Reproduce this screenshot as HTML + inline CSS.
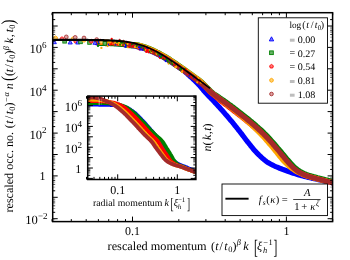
<!DOCTYPE html>
<html><head><meta charset="utf-8"><title>chart</title>
<style>html,body{margin:0;padding:0;background:#fff;overflow:hidden}body{width:350px;height:260px;font-family:"Liberation Serif",serif}svg{will-change:transform;transform:translateZ(0)}</style></head>
<body>
<svg width="350" height="260" viewBox="0 0 350 260" style="display:block" text-rendering="geometricPrecision" font-family="'Liberation Serif', serif">
<rect width="350" height="260" fill="#fff"/>
<defs><clipPath id="cm"><rect x="52.7" y="12.7" width="279.90000000000003" height="208.9"/></clipPath><clipPath id="ci"><rect x="87.7" y="96.1" width="108.2" height="83.4"/></clipPath></defs>
<g clip-path="url(#cm)">
<path d="M97.0,42.8 L98.4,42.8 L99.9,42.9 L101.3,42.9 L102.8,42.9 L104.2,43.0 L105.7,43.0 L107.1,43.0 L108.6,43.1 L110.0,43.2 L111.4,43.2 L112.9,43.3 L114.3,43.4 L115.8,43.5 L117.2,43.6 L118.7,43.7 L120.1,43.8 L121.5,44.0 L123.0,44.1 L124.4,44.3 L125.8,44.5 L127.3,44.7 L128.7,44.9 L130.1,45.1 L131.5,45.4 L133.0,45.7 L134.4,46.0 L135.8,46.3 L137.2,46.6 L138.6,46.9 L140.0,47.3 L141.4,47.6 L142.8,48.1 L144.2,48.5 L145.5,48.9 L146.9,49.4 L148.3,49.9 L149.6,50.5 L150.9,51.0 L152.3,51.6 L153.6,52.2 L154.9,52.8 L156.2,53.4 L157.5,54.1 L158.8,54.7 L160.0,55.4 L161.3,56.1 L162.6,56.8 L163.8,57.5 L165.1,58.2 L166.3,59.0 L167.6,59.7 L168.8,60.5 L170.0,61.3 L171.2,62.1 L172.4,62.9 L173.6,63.7 L174.8,64.5 L176.0,65.3 L177.2,66.1 L178.4,66.9 L179.6,67.8 L180.8,68.6 L182.0,69.4 L183.1,70.2 L184.3,71.1 L185.4,72.0 L186.5,73.0 L187.5,74.0 L188.6,75.0 L189.6,76.0 L190.7,76.9 L191.8,77.9 L192.9,78.9 L193.9,79.9 L195.0,80.9 L196.0,81.9 L197.0,82.9 L198.0,83.9 L199.0,85.0 L200.0,86.1 L200.9,87.2 L201.9,88.3 L202.8,89.4 L203.7,90.5 L204.6,91.6 L205.6,92.7 L206.6,93.7 L207.6,94.8 L208.6,95.8 L209.5,96.9 L210.6,97.9 L211.6,99.0 L212.6,100.0 L213.6,101.1 L214.5,102.1 L215.5,103.2 L216.5,104.2 L217.5,105.3 L218.5,106.4 L219.5,107.4 L220.4,108.5 L221.4,109.6 L222.4,110.6 L223.3,111.7 L224.3,112.8 L225.2,113.9 L226.2,115.0 L227.1,116.1 L228.1,117.2 L229.0,118.3 L229.9,119.4 L230.8,120.5 L231.8,121.6 L232.7,122.7 L233.6,123.8 L234.5,125.0 L235.4,126.1 L236.3,127.2 L237.2,128.3 L238.1,129.5 L239.0,130.6 L239.9,131.7 L240.8,132.9 L241.7,134.0 L242.5,135.2 L243.4,136.3 L244.3,137.5 L245.2,138.7 L246.0,139.8 L246.9,140.9 L247.8,142.1 L248.7,143.2 L249.6,144.3 L250.5,145.5 L251.4,146.6 L252.3,147.7 L253.2,148.8 L254.2,150.0 L255.1,151.0 L256.1,152.1 L257.1,153.2 L258.1,154.2 L259.1,155.2 L260.2,156.2 L261.2,157.2 L262.3,158.2 L263.4,159.1 L264.5,160.0 L265.7,160.9 L266.8,161.8 L268.0,162.6 L269.3,163.3 L270.5,164.0 L271.8,164.7 L273.1,165.3 L274.4,166.0 L275.7,166.6 L277.1,167.1 L278.4,167.7 L279.7,168.3 L281.1,168.8 L282.4,169.3 L283.8,169.8 L285.1,170.3 L286.5,170.8 L287.8,171.3 L289.2,171.8 L290.6,172.2 L292.0,172.7 L293.3,173.2 L294.7,173.6 L296.1,174.0 L297.5,174.5 L298.8,174.9 L300.2,175.3 L301.6,175.7 L303.0,176.0 L304.4,176.4 L305.8,176.7 L307.2,177.1 L308.6,177.4 L310.0,177.7 L311.5,178.1 L312.9,178.4 L314.3,178.7 L315.7,179.0 L317.1,179.3 L318.5,179.6 L319.9,179.9 L321.3,180.2 L322.7,180.6 L324.2,180.9 L325.6,181.2 L327.0,181.5 L328.4,181.9 L329.8,182.2 L331.2,182.5 L332.6,182.9 L334.0,183.2" fill="none" stroke="#0000ff" stroke-width="5.2" stroke-linejoin="round" stroke-linecap="round"/>
<path d="M99.0,43.2 L100.4,43.3 L101.8,43.3 L103.3,43.3 L104.7,43.4 L106.1,43.4 L107.5,43.5 L108.9,43.5 L110.4,43.6 L111.8,43.6 L113.2,43.7 L114.6,43.8 L116.0,43.9 L117.5,44.0 L118.9,44.1 L120.3,44.2 L121.7,44.4 L123.1,44.5 L124.5,44.7 L125.9,44.9 L127.3,45.1 L128.7,45.3 L130.2,45.6 L131.5,45.8 L132.9,45.7 L134.2,45.1 L135.6,44.5 L137.0,44.7 L138.4,45.0 L139.7,45.4 L141.1,45.8 L142.5,46.2 L143.8,46.6 L145.2,47.0 L146.5,47.5 L147.8,48.0 L149.2,48.5 L150.5,49.0 L151.8,49.6 L153.1,50.2 L154.4,50.8 L155.7,51.4 L156.9,52.0 L158.2,52.6 L159.5,53.3 L160.7,54.0 L162.0,54.7 L163.2,55.4 L164.4,56.1 L165.7,56.8 L166.9,57.5 L168.1,58.2 L169.3,59.0 L170.5,59.8 L171.7,60.6 L172.9,61.4 L174.0,62.1 L175.2,62.9 L176.4,63.7 L177.5,64.6 L178.7,65.4 L179.9,66.2 L181.0,67.0 L182.2,67.8 L183.4,68.6 L184.5,69.5 L185.7,70.3 L186.8,71.1 L188.0,71.9 L189.1,72.8 L190.3,73.6 L191.4,74.4 L192.6,75.3 L193.7,76.1 L194.9,76.9 L196.0,77.8 L197.2,78.6 L198.3,79.4 L199.5,80.3 L200.6,81.2 L201.7,82.1 L202.7,83.1 L203.7,84.1 L204.7,85.1 L205.7,86.1 L206.7,87.2 L207.7,88.2 L208.7,89.2 L209.7,90.2 L210.7,91.2 L211.8,92.1 L212.9,93.0 L214.0,93.8 L215.2,94.6 L216.4,95.4 L217.6,96.2 L218.7,97.0 L219.9,97.8 L221.1,98.6 L222.2,99.4 L223.4,100.2 L224.6,101.0 L225.8,101.9 L226.9,102.7 L228.1,103.5 L229.2,104.3 L230.4,105.1 L231.5,106.0 L232.7,106.9 L233.8,107.7 L234.9,108.6 L236.0,109.4 L237.2,110.3 L238.3,111.2 L239.4,112.1 L240.5,112.9 L241.7,113.8 L242.8,114.7 L243.9,115.6 L245.0,116.4 L246.1,117.3 L247.2,118.2 L248.4,119.1 L249.5,120.0 L250.6,120.9 L251.7,121.8 L252.7,122.7 L253.8,123.6 L254.9,124.5 L256.0,125.5 L257.0,126.4 L258.1,127.3 L259.2,128.3 L260.2,129.2 L261.3,130.2 L262.3,131.2 L263.3,132.2 L264.3,133.2 L265.3,134.1 L266.3,135.2 L267.3,136.2 L268.3,137.2 L269.3,138.3 L270.2,139.3 L271.2,140.4 L272.1,141.4 L273.1,142.5 L274.0,143.5 L274.9,144.6 L275.9,145.7 L276.8,146.8 L277.7,147.9 L278.6,148.9 L279.5,150.0 L280.5,151.1 L281.4,152.2 L282.3,153.3 L283.2,154.4 L284.1,155.5 L285.0,156.6 L285.9,157.7 L286.8,158.8 L287.7,159.9 L288.7,160.9 L289.6,162.0 L290.5,163.1 L291.5,164.1 L292.5,165.1 L293.4,166.2 L294.5,167.2 L295.5,168.1 L296.6,169.0 L297.8,169.8 L299.0,170.6 L300.2,171.4 L301.4,172.1 L302.7,172.8 L303.9,173.4 L305.2,174.0 L306.5,174.5 L307.9,175.0 L309.2,175.4 L310.6,175.8 L312.0,176.2 L313.3,176.6 L314.7,176.9 L316.1,177.3 L317.5,177.7 L318.8,178.0 L320.2,178.4 L321.6,178.7 L323.0,179.1 L324.3,179.4 L325.7,179.8 L327.1,180.1 L328.5,180.4 L329.9,180.8 L331.2,181.1 L332.6,181.5 L334.0,181.8" fill="none" stroke="#008000" stroke-width="5.2" stroke-linejoin="round" stroke-linecap="round"/>
<path d="M98.0,42.2 L99.4,42.2 L100.9,42.3 L102.3,42.3 L103.7,42.3 L105.1,42.4 L106.6,42.4 L108.0,42.5 L109.4,42.5 L110.8,42.6 L112.3,42.7 L113.7,42.7 L115.1,42.8 L116.5,42.9 L117.9,43.0 L119.4,43.1 L120.8,43.3 L122.2,43.4 L123.6,43.6 L125.0,43.7 L126.5,43.9 L127.9,44.1 L129.3,44.4 L130.7,44.6 L132.1,44.9 L133.5,45.2 L134.9,45.5 L136.3,45.8 L137.7,46.1 L139.0,46.4 L140.4,46.8 L141.8,47.2 L143.2,47.6 L144.5,48.0 L145.9,48.5 L147.2,48.9 L148.5,49.4 L149.9,50.0 L151.2,50.5 L152.5,51.1 L153.8,51.7 L155.1,52.3 L156.4,52.9 L157.6,53.6 L158.9,54.2 L160.2,54.9 L161.4,55.6 L162.7,56.3 L163.9,57.0 L165.1,57.7 L166.4,58.4 L167.6,59.1 L168.8,59.9 L170.0,60.7 L171.2,61.4 L172.4,62.2 L173.6,63.0 L174.7,63.8 L175.9,64.6 L177.1,65.4 L178.3,66.2 L179.4,67.1 L180.6,67.9 L181.8,68.7 L182.9,69.5 L184.1,70.3 L185.3,71.2 L186.4,72.0 L187.6,72.8 L188.7,73.7 L189.9,74.5 L191.0,75.3 L192.2,76.2 L193.4,77.0 L194.5,77.8 L195.7,78.7 L196.8,79.5 L198.0,80.4 L199.1,81.2 L200.3,82.1 L201.3,83.0 L202.4,84.0 L203.4,84.9 L204.4,85.9 L205.4,87.0 L206.4,88.0 L207.4,89.0 L208.4,90.1 L209.4,91.1 L210.4,92.1 L211.4,93.1 L212.5,94.0 L213.6,94.9 L214.7,95.8 L215.8,96.7 L216.9,97.6 L218.0,98.6 L219.1,99.5 L220.2,100.4 L221.3,101.3 L222.5,102.1 L223.6,103.0 L224.7,103.8 L225.9,104.7 L227.0,105.5 L228.2,106.4 L229.3,107.3 L230.4,108.1 L231.5,109.0 L232.7,109.9 L233.8,110.8 L234.9,111.6 L236.1,112.5 L237.2,113.4 L238.3,114.3 L239.4,115.2 L240.5,116.0 L241.7,116.9 L242.8,117.8 L243.9,118.7 L245.0,119.6 L246.1,120.5 L247.2,121.4 L248.3,122.3 L249.4,123.2 L250.5,124.1 L251.6,125.0 L252.7,126.0 L253.8,126.9 L254.8,127.8 L255.9,128.8 L257.0,129.7 L258.0,130.7 L259.1,131.7 L260.1,132.6 L261.1,133.6 L262.1,134.6 L263.1,135.6 L264.1,136.7 L265.1,137.7 L266.1,138.8 L267.0,139.8 L268.0,140.9 L268.9,141.9 L269.9,143.0 L270.8,144.1 L271.7,145.2 L272.7,146.2 L273.6,147.3 L274.5,148.4 L275.4,149.5 L276.3,150.6 L277.2,151.7 L278.1,152.8 L279.0,153.9 L279.9,155.0 L280.9,156.1 L281.8,157.2 L282.7,158.3 L283.6,159.4 L284.5,160.5 L285.4,161.6 L286.3,162.7 L287.3,163.8 L288.2,164.8 L289.3,165.8 L290.3,166.8 L291.4,167.7 L292.5,168.6 L293.7,169.4 L294.9,170.2 L296.1,171.0 L297.3,171.7 L298.6,172.4 L299.8,173.0 L301.1,173.6 L302.4,174.2 L303.7,174.7 L305.1,175.2 L306.4,175.7 L307.8,176.1 L309.2,176.6 L310.5,177.0 L311.9,177.3 L313.3,177.7 L314.6,178.1 L316.0,178.5 L317.4,178.8 L318.8,179.2 L320.2,179.5 L321.5,179.9 L322.9,180.2 L324.3,180.6 L325.7,180.9 L327.1,181.3 L328.5,181.6 L329.8,182.0 L331.2,182.3 L332.6,182.7 L334.0,183.0" fill="none" stroke="#ff0000" stroke-width="5.2" stroke-linejoin="round" stroke-linecap="round"/>
<path d="M100.0,42.1 L101.4,42.1 L102.8,42.1 L104.3,42.2 L105.7,42.2 L107.1,42.2 L108.5,42.3 L109.9,42.4 L111.3,42.4 L112.8,42.5 L114.2,42.6 L115.6,42.7 L117.0,42.8 L118.4,42.9 L119.8,43.0 L121.3,43.1 L122.7,43.3 L124.1,43.4 L125.5,43.6 L126.9,43.8 L128.3,44.0 L129.7,44.3 L131.1,44.6 L132.5,44.7 L133.9,44.7 L135.3,44.8 L136.7,44.9 L138.1,45.3 L139.5,45.6 L140.9,46.0 L142.2,46.4 L143.6,46.8 L144.9,47.2 L146.3,47.7 L147.6,48.2 L148.9,48.7 L150.2,49.2 L151.6,49.8 L152.8,50.4 L154.1,50.9 L155.4,51.6 L156.7,52.2 L158.0,52.8 L159.2,53.5 L160.5,54.1 L161.7,54.8 L163.0,55.5 L164.2,56.2 L165.4,56.9 L166.6,57.7 L167.8,58.4 L169.1,59.1 L170.2,59.9 L171.4,60.7 L172.6,61.5 L173.8,62.3 L175.0,63.1 L176.1,63.9 L177.3,64.7 L178.5,65.5 L179.6,66.3 L180.8,67.1 L182.0,67.9 L183.1,68.7 L184.3,69.6 L185.4,70.4 L186.6,71.2 L187.7,72.0 L188.9,72.9 L190.0,73.7 L191.2,74.5 L192.3,75.4 L193.5,76.2 L194.6,77.0 L195.8,77.9 L196.9,78.7 L198.1,79.5 L199.2,80.4 L200.3,81.2 L201.4,82.2 L202.4,83.1 L203.4,84.2 L204.4,85.2 L205.4,86.2 L206.3,87.3 L207.3,88.3 L208.3,89.4 L209.3,90.4 L210.3,91.4 L211.3,92.4 L212.3,93.3 L213.5,94.2 L214.6,95.1 L215.7,95.9 L216.9,96.8 L218.0,97.6 L219.1,98.5 L220.3,99.3 L221.4,100.2 L222.5,101.0 L223.6,101.9 L224.8,102.8 L225.9,103.6 L227.0,104.5 L228.1,105.4 L229.3,106.3 L230.4,107.1 L231.5,108.0 L232.6,108.9 L233.7,109.8 L234.8,110.7 L235.9,111.6 L237.0,112.5 L238.1,113.4 L239.2,114.3 L240.3,115.2 L241.3,116.1 L242.4,117.0 L243.5,117.9 L244.6,118.9 L245.7,119.8 L246.8,120.7 L247.8,121.6 L248.9,122.6 L249.9,123.5 L251.0,124.5 L252.0,125.5 L253.1,126.4 L254.1,127.4 L255.1,128.4 L256.1,129.4 L257.1,130.4 L258.1,131.4 L259.1,132.4 L260.1,133.4 L261.1,134.4 L262.1,135.5 L263.0,136.5 L264.0,137.5 L265.0,138.6 L265.9,139.7 L266.8,140.7 L267.8,141.8 L268.7,142.9 L269.6,143.9 L270.6,145.0 L271.5,146.1 L272.4,147.2 L273.3,148.3 L274.2,149.4 L275.1,150.5 L276.0,151.6 L276.9,152.7 L277.7,153.8 L278.6,154.9 L279.5,156.0 L280.4,157.1 L281.3,158.2 L282.2,159.3 L283.1,160.4 L284.1,161.4 L285.1,162.4 L286.1,163.4 L287.2,164.4 L288.2,165.4 L289.3,166.3 L290.3,167.2 L291.4,168.1 L292.6,168.9 L293.8,169.7 L295.0,170.5 L296.2,171.2 L297.5,171.9 L298.7,172.5 L300.0,173.1 L301.3,173.7 L302.6,174.3 L303.9,174.9 L305.2,175.4 L306.5,175.9 L307.9,176.3 L309.3,176.7 L310.6,177.0 L312.0,177.4 L313.4,177.8 L314.7,178.1 L316.1,178.5 L317.5,178.9 L318.9,179.2 L320.2,179.6 L321.6,179.9 L323.0,180.3 L324.4,180.6 L325.7,180.9 L327.1,181.3 L328.5,181.6 L329.9,182.0 L331.2,182.3 L332.6,182.7 L334.0,183.0" fill="none" stroke="#ffa500" stroke-width="5.2" stroke-linejoin="round" stroke-linecap="round"/>
<path d="M128.0,44.6 L129.3,44.8 L130.5,45.0 L131.8,45.2 L133.0,45.5 L134.3,45.7 L135.5,46.0 L136.7,46.3 L138.0,46.6 L139.2,46.9 L140.4,47.2 L141.7,47.5 L142.9,47.9 L144.1,48.3 L145.3,48.7 L146.5,49.1 L147.7,49.5 L148.9,50.0 L150.1,50.5 L151.2,51.0 L152.4,51.5 L153.6,52.0 L154.7,52.5 L155.9,53.1 L157.0,53.6 L158.1,54.2 L159.3,54.8 L160.4,55.4 L161.5,56.0 L162.6,56.6 L163.7,57.3 L164.8,57.9 L165.9,58.5 L167.0,59.2 L168.1,59.8 L169.2,60.5 L170.3,61.2 L171.3,61.9 L172.4,62.6 L173.4,63.3 L174.5,64.1 L175.5,64.8 L176.6,65.5 L177.6,66.2 L178.7,66.9 L179.7,67.7 L180.8,68.4 L181.8,69.1 L182.8,69.9 L183.9,70.6 L184.9,71.3 L186.0,72.1 L187.0,72.8 L188.0,73.6 L189.1,74.3 L190.1,75.0 L191.1,75.8 L192.1,76.5 L193.2,77.3 L194.2,78.0 L195.2,78.8 L196.3,79.5 L197.3,80.3 L198.3,81.0 L199.4,81.8 L200.4,82.5 L201.3,83.3 L202.3,84.2 L203.3,85.0 L204.2,85.9 L205.2,86.7 L206.1,87.6 L207.0,88.4 L208.0,89.3 L208.9,90.2 L209.9,91.0 L210.8,91.9 L211.8,92.7 L212.8,93.5 L213.7,94.3 L214.7,95.1 L215.8,95.8 L216.8,96.6 L217.8,97.4 L218.8,98.1 L219.9,98.8 L220.9,99.6 L221.9,100.3 L223.0,101.1 L224.0,101.8 L225.1,102.5 L226.1,103.3 L227.1,104.0 L228.1,104.8 L229.2,105.6 L230.2,106.3 L231.2,107.1 L232.2,107.9 L233.2,108.6 L234.2,109.4 L235.2,110.2 L236.2,111.0 L237.2,111.8 L238.2,112.5 L239.2,113.3 L240.2,114.1 L241.2,114.9 L242.2,115.7 L243.2,116.5 L244.2,117.2 L245.2,118.0 L246.2,118.8 L247.2,119.6 L248.2,120.4 L249.2,121.2 L250.2,122.0 L251.2,122.8 L252.1,123.7 L253.1,124.5 L254.1,125.3 L255.0,126.2 L256.0,127.0 L256.9,127.9 L257.9,128.7 L258.8,129.6 L259.8,130.4 L260.7,131.3 L261.6,132.2 L262.5,133.1 L263.4,133.9 L264.3,134.8 L265.2,135.7 L266.1,136.7 L267.0,137.6 L267.8,138.5 L268.7,139.5 L269.6,140.4 L270.4,141.3 L271.3,142.3 L272.1,143.2 L272.9,144.2 L273.8,145.2 L274.6,146.1 L275.4,147.1 L276.2,148.1 L277.1,149.1 L277.9,150.0 L278.7,151.0 L279.5,152.0 L280.3,153.0 L281.1,153.9 L281.9,154.9 L282.8,155.9 L283.6,156.9 L284.4,157.9 L285.2,158.8 L286.0,159.8 L286.8,160.8 L287.7,161.8 L288.5,162.7 L289.4,163.7 L290.2,164.6 L291.1,165.5 L292.0,166.5 L292.9,167.4 L293.8,168.2 L294.8,169.0 L295.8,169.8 L296.8,170.6 L297.9,171.3 L298.9,172.0 L300.0,172.6 L301.1,173.2 L302.3,173.8 L303.4,174.4 L304.6,174.9 L305.7,175.4 L306.9,175.8 L308.1,176.2 L309.4,176.6 L310.6,177.0 L311.8,177.3 L313.0,177.7 L314.3,178.0 L315.5,178.3 L316.7,178.7 L318.0,179.0 L319.2,179.3 L320.4,179.6 L321.7,179.9 L322.9,180.2 L324.1,180.5 L325.4,180.9 L326.6,181.2 L327.8,181.5 L329.1,181.8 L330.3,182.1 L331.5,182.4 L332.8,182.7 L334.0,183.0" fill="none" stroke="#a52a2a" stroke-width="5.2" stroke-linejoin="round" stroke-linecap="round"/>
<circle cx="98.0" cy="45.9" r="1.15" fill="#008000"/>
<circle cx="98.6" cy="43.5" r="1.15" fill="#008000"/>
<circle cx="99.1" cy="42.0" r="1.15" fill="#0000ff"/>
<circle cx="99.7" cy="42.5" r="1.15" fill="#0000ff"/>
<circle cx="100.3" cy="39.8" r="1.15" fill="#ff0000"/>
<circle cx="100.8" cy="41.6" r="1.15" fill="#008000"/>
<circle cx="101.4" cy="47.9" r="1.15" fill="#ffa500"/>
<circle cx="102.0" cy="42.4" r="1.15" fill="#ffa500"/>
<circle cx="102.6" cy="42.5" r="1.15" fill="#ff0000"/>
<circle cx="103.1" cy="41.3" r="1.15" fill="#ffa500"/>
<circle cx="103.7" cy="42.4" r="1.15" fill="#008000"/>
<circle cx="104.3" cy="42.6" r="1.15" fill="#ff0000"/>
<circle cx="104.8" cy="44.4" r="1.15" fill="#008000"/>
<circle cx="105.4" cy="43.0" r="1.15" fill="#ff0000"/>
<circle cx="106.0" cy="45.3" r="1.15" fill="#a52a2a"/>
<circle cx="106.5" cy="42.3" r="1.15" fill="#ff0000"/>
<circle cx="107.1" cy="42.8" r="1.15" fill="#ff0000"/>
<circle cx="107.7" cy="46.0" r="1.15" fill="#ffa500"/>
<circle cx="108.2" cy="42.7" r="1.15" fill="#ffa500"/>
<circle cx="108.8" cy="44.6" r="1.15" fill="#0000ff"/>
<circle cx="109.4" cy="41.8" r="1.15" fill="#ffa500"/>
<circle cx="109.9" cy="44.5" r="1.15" fill="#ff0000"/>
<circle cx="110.5" cy="44.1" r="1.15" fill="#ffa500"/>
<circle cx="111.1" cy="44.2" r="1.15" fill="#ff0000"/>
<circle cx="111.7" cy="39.0" r="1.15" fill="#ff0000"/>
<circle cx="112.2" cy="41.8" r="1.15" fill="#ff0000"/>
<circle cx="112.8" cy="40.8" r="1.15" fill="#008000"/>
<circle cx="113.4" cy="44.4" r="1.15" fill="#ff0000"/>
<circle cx="113.9" cy="42.7" r="1.15" fill="#a52a2a"/>
<circle cx="114.5" cy="43.4" r="1.15" fill="#ffa500"/>
<circle cx="115.1" cy="43.4" r="1.15" fill="#ffa500"/>
<circle cx="115.6" cy="44.6" r="1.15" fill="#0000ff"/>
<circle cx="116.2" cy="43.8" r="1.15" fill="#a52a2a"/>
<circle cx="116.8" cy="43.2" r="1.15" fill="#ffa500"/>
<circle cx="117.3" cy="42.2" r="1.15" fill="#008000"/>
<circle cx="117.9" cy="44.5" r="1.15" fill="#ff0000"/>
<circle cx="118.5" cy="43.4" r="1.15" fill="#ffa500"/>
<circle cx="119.0" cy="44.1" r="1.15" fill="#ffa500"/>
<circle cx="119.6" cy="40.0" r="1.15" fill="#a52a2a"/>
<circle cx="120.2" cy="44.6" r="1.15" fill="#008000"/>
<circle cx="120.8" cy="41.4" r="1.15" fill="#008000"/>
<circle cx="121.3" cy="42.5" r="1.15" fill="#008000"/>
<circle cx="121.9" cy="45.1" r="1.15" fill="#ffa500"/>
<circle cx="122.5" cy="42.7" r="1.15" fill="#008000"/>
<circle cx="123.0" cy="45.2" r="1.15" fill="#a52a2a"/>
<circle cx="123.6" cy="40.9" r="1.15" fill="#a52a2a"/>
<circle cx="124.2" cy="43.5" r="1.15" fill="#ff0000"/>
<circle cx="124.7" cy="43.4" r="1.15" fill="#008000"/>
<circle cx="125.3" cy="46.8" r="1.15" fill="#0000ff"/>
<circle cx="125.9" cy="45.0" r="1.15" fill="#0000ff"/>
<circle cx="126.4" cy="43.0" r="1.15" fill="#ff0000"/>
<circle cx="127.0" cy="44.6" r="1.15" fill="#008000"/>
<circle cx="127.6" cy="44.1" r="1.15" fill="#ffa500"/>
<circle cx="128.1" cy="47.3" r="1.15" fill="#ffa500"/>
<circle cx="128.7" cy="46.0" r="1.15" fill="#a52a2a"/>
<circle cx="129.3" cy="46.7" r="1.15" fill="#ff0000"/>
<circle cx="129.9" cy="45.6" r="1.15" fill="#a52a2a"/>
<circle cx="130.4" cy="44.0" r="1.15" fill="#ff0000"/>
<circle cx="131.0" cy="44.1" r="1.15" fill="#ff0000"/>
<circle cx="131.6" cy="43.2" r="1.15" fill="#ff0000"/>
<circle cx="132.1" cy="44.6" r="1.15" fill="#008000"/>
<circle cx="132.7" cy="45.9" r="1.15" fill="#ff0000"/>
<circle cx="133.3" cy="46.6" r="1.15" fill="#ff0000"/>
<circle cx="133.8" cy="43.2" r="1.15" fill="#008000"/>
<circle cx="134.4" cy="46.0" r="1.15" fill="#a52a2a"/>
<circle cx="135.0" cy="47.2" r="1.15" fill="#ffa500"/>
<circle cx="135.5" cy="46.5" r="1.15" fill="#ffa500"/>
<circle cx="136.1" cy="46.8" r="1.15" fill="#ffa500"/>
<circle cx="136.7" cy="46.1" r="1.15" fill="#008000"/>
<circle cx="137.2" cy="45.4" r="1.15" fill="#008000"/>
<circle cx="137.8" cy="46.9" r="1.15" fill="#a52a2a"/>
<circle cx="138.4" cy="47.7" r="1.15" fill="#ffa500"/>
<circle cx="139.0" cy="47.3" r="1.15" fill="#0000ff"/>
<circle cx="139.5" cy="49.4" r="1.15" fill="#ff0000"/>
<circle cx="140.1" cy="49.5" r="1.15" fill="#0000ff"/>
<circle cx="140.7" cy="46.9" r="1.15" fill="#0000ff"/>
<circle cx="141.2" cy="46.7" r="1.15" fill="#008000"/>
<circle cx="141.8" cy="44.3" r="1.15" fill="#ffa500"/>
<circle cx="142.4" cy="49.7" r="1.15" fill="#0000ff"/>
<circle cx="142.9" cy="46.1" r="1.15" fill="#008000"/>
<circle cx="143.5" cy="46.8" r="1.15" fill="#a52a2a"/>
<circle cx="144.1" cy="48.5" r="1.15" fill="#008000"/>
<circle cx="144.6" cy="49.6" r="1.15" fill="#008000"/>
<circle cx="145.2" cy="48.5" r="1.15" fill="#ff0000"/>
<circle cx="145.8" cy="50.2" r="1.15" fill="#ffa500"/>
<circle cx="146.3" cy="51.9" r="1.15" fill="#ff0000"/>
<circle cx="146.9" cy="50.5" r="1.15" fill="#ff0000"/>
<circle cx="147.5" cy="48.0" r="1.15" fill="#0000ff"/>
<circle cx="148.1" cy="49.6" r="1.15" fill="#ff0000"/>
<circle cx="148.6" cy="52.3" r="1.15" fill="#ff0000"/>
<circle cx="149.2" cy="51.3" r="1.15" fill="#ff0000"/>
<circle cx="149.8" cy="49.9" r="1.15" fill="#ffa500"/>
<circle cx="150.3" cy="51.5" r="1.15" fill="#008000"/>
<circle cx="150.9" cy="49.6" r="1.15" fill="#ff0000"/>
<circle cx="151.5" cy="52.0" r="1.15" fill="#ffa500"/>
<circle cx="152.0" cy="51.1" r="1.15" fill="#008000"/>
<circle cx="152.6" cy="50.9" r="1.15" fill="#ff0000"/>
<circle cx="153.2" cy="50.0" r="1.15" fill="#ff0000"/>
<circle cx="153.7" cy="53.1" r="1.15" fill="#ff0000"/>
<circle cx="154.3" cy="52.5" r="1.15" fill="#a52a2a"/>
<circle cx="154.9" cy="53.3" r="1.15" fill="#008000"/>
<circle cx="155.4" cy="53.3" r="1.15" fill="#ff0000"/>
<circle cx="156.0" cy="51.1" r="1.15" fill="#ff0000"/>
<circle cx="156.6" cy="53.8" r="1.15" fill="#ffa500"/>
<circle cx="157.2" cy="52.7" r="1.15" fill="#008000"/>
<circle cx="157.7" cy="53.0" r="1.15" fill="#ffa500"/>
<circle cx="158.3" cy="54.0" r="1.15" fill="#008000"/>
<circle cx="158.9" cy="54.2" r="1.15" fill="#a52a2a"/>
<circle cx="159.4" cy="54.9" r="1.15" fill="#008000"/>
<circle cx="160.0" cy="56.4" r="1.15" fill="#0000ff"/>
<circle cx="160.0" cy="57.9" r="1.15" fill="#ff0000"/>
<circle cx="161.0" cy="57.2" r="1.15" fill="#008000"/>
<circle cx="161.9" cy="55.7" r="1.15" fill="#008000"/>
<circle cx="162.9" cy="58.2" r="1.15" fill="#ff0000"/>
<circle cx="163.8" cy="59.1" r="1.15" fill="#008000"/>
<circle cx="164.8" cy="58.3" r="1.15" fill="#ff0000"/>
<circle cx="165.7" cy="61.0" r="1.15" fill="#0000ff"/>
<circle cx="166.7" cy="59.0" r="1.15" fill="#008000"/>
<circle cx="167.6" cy="60.9" r="1.15" fill="#008000"/>
<circle cx="168.6" cy="63.6" r="1.15" fill="#ffa500"/>
<circle cx="169.5" cy="62.5" r="1.15" fill="#008000"/>
<circle cx="170.5" cy="61.6" r="1.15" fill="#a52a2a"/>
<circle cx="171.5" cy="61.6" r="1.15" fill="#008000"/>
<circle cx="172.4" cy="64.0" r="1.15" fill="#008000"/>
<circle cx="173.4" cy="62.6" r="1.15" fill="#ffa500"/>
<circle cx="174.3" cy="64.1" r="1.15" fill="#ff0000"/>
<circle cx="175.3" cy="67.2" r="1.15" fill="#ffa500"/>
<circle cx="176.2" cy="67.0" r="1.15" fill="#ffa500"/>
<circle cx="177.2" cy="65.1" r="1.15" fill="#ffa500"/>
<circle cx="178.1" cy="65.7" r="1.15" fill="#ff0000"/>
<circle cx="179.1" cy="65.6" r="1.15" fill="#ff0000"/>
<circle cx="180.0" cy="69.6" r="1.15" fill="#008000"/>
<circle cx="181.0" cy="69.0" r="1.15" fill="#008000"/>
<circle cx="182.0" cy="71.9" r="1.15" fill="#ffa500"/>
<circle cx="182.9" cy="70.5" r="1.15" fill="#ffa500"/>
<circle cx="183.9" cy="70.4" r="1.15" fill="#ff0000"/>
<circle cx="184.8" cy="69.0" r="1.15" fill="#008000"/>
<circle cx="185.8" cy="69.5" r="1.15" fill="#ff0000"/>
<circle cx="186.7" cy="73.8" r="1.15" fill="#a52a2a"/>
<circle cx="187.7" cy="75.2" r="1.15" fill="#a52a2a"/>
<circle cx="188.6" cy="74.1" r="1.15" fill="#ff0000"/>
<circle cx="189.6" cy="75.4" r="1.15" fill="#0000ff"/>
<circle cx="190.5" cy="74.7" r="1.15" fill="#a52a2a"/>
<circle cx="191.5" cy="76.3" r="1.15" fill="#ff0000"/>
<circle cx="192.5" cy="76.8" r="1.15" fill="#ff0000"/>
<circle cx="193.4" cy="76.4" r="1.15" fill="#008000"/>
<circle cx="194.4" cy="78.1" r="1.15" fill="#0000ff"/>
<circle cx="195.3" cy="78.8" r="1.15" fill="#ff0000"/>
<circle cx="196.3" cy="77.9" r="1.15" fill="#ff0000"/>
<circle cx="197.2" cy="82.3" r="1.15" fill="#ffa500"/>
<circle cx="198.2" cy="78.2" r="1.15" fill="#ffa500"/>
<circle cx="199.1" cy="81.6" r="1.15" fill="#ff0000"/>
<circle cx="200.1" cy="81.0" r="1.15" fill="#a52a2a"/>
<circle cx="201.0" cy="82.5" r="1.15" fill="#ffa500"/>
<circle cx="202.0" cy="81.3" r="1.15" fill="#ffa500"/>
<polygon points="55.5,35.9 57.3,37.0 57.3,39.0 55.5,40.1 53.7,39.1 53.7,37.0" fill="#ffd070" stroke="#ffa500" stroke-width="0.8"/>
<polygon points="54.3,39.8 52.2,43.7 56.4,43.7" fill="#7a7aff" stroke="#0000ff" stroke-width="0.8"/>
<polygon points="62.0,36.7 64.0,38.2 63.2,40.5 60.8,40.5 60.0,38.2" fill="#ff7a7a" stroke="#ff0000" stroke-width="0.8"/>
<rect x="62.8" y="39.5" width="3.6" height="3.6" fill="#66b266" stroke="#008000" stroke-width="0.8"/>
<circle cx="66.3" cy="36.9" r="1.9" fill="#dca4a4" stroke="#a52a2a" stroke-width="0.8"/>
<polygon points="70.2,40.1 68.1,44.0 72.3,44.0" fill="#7a7aff" stroke="#0000ff" stroke-width="0.8"/>
<polygon points="73.2,36.7 75.0,37.8 75.0,39.8 73.2,40.9 71.4,39.9 71.4,37.8" fill="#ffd070" stroke="#ffa500" stroke-width="0.8"/>
<polygon points="75.7,39.0 77.7,40.5 76.9,42.8 74.5,42.8 73.7,40.5" fill="#ff7a7a" stroke="#ff0000" stroke-width="0.8"/>
<circle cx="75.2" cy="37.4" r="1.9" fill="#dca4a4" stroke="#a52a2a" stroke-width="0.8"/>
<polygon points="77.8,40.1 75.7,44.0 79.9,44.0" fill="#7a7aff" stroke="#0000ff" stroke-width="0.8"/>
<rect x="78.7" y="40.1" width="3.6" height="3.6" fill="#66b266" stroke="#008000" stroke-width="0.8"/>
<polygon points="84.0,38.1 85.8,39.2 85.8,41.2 84.0,42.3 82.2,41.3 82.2,39.2" fill="#ffd070" stroke="#ffa500" stroke-width="0.8"/>
<circle cx="84.0" cy="38.0" r="1.9" fill="#dca4a4" stroke="#a52a2a" stroke-width="0.8"/>
<rect x="87.7" y="40.7" width="3.6" height="3.6" fill="#66b266" stroke="#008000" stroke-width="0.8"/>
<polygon points="91.2,39.2 93.2,40.7 92.4,43.0 90.0,43.0 89.2,40.7" fill="#ff7a7a" stroke="#ff0000" stroke-width="0.8"/>
<polygon points="95.0,40.4 92.9,44.3 97.1,44.3" fill="#7a7aff" stroke="#0000ff" stroke-width="0.8"/>
<circle cx="96.7" cy="39.6" r="1.9" fill="#dca4a4" stroke="#a52a2a" stroke-width="0.8"/>
<polygon points="101.5,39.6 103.3,40.7 103.3,42.8 101.5,43.8 99.7,42.8 99.7,40.7" fill="#ffd070" stroke="#ffa500" stroke-width="0.8"/>
<rect x="103.1" y="41.6" width="3.6" height="3.6" fill="#66b266" stroke="#008000" stroke-width="0.8"/>
<path d="M51.7,41.1 L53.0,41.1 L54.4,41.1 L55.7,41.1 L57.0,41.1 L58.4,41.1 L59.7,41.1 L61.0,41.1 L62.3,41.1 L63.7,41.1 L65.0,41.1 L66.3,41.1 L67.7,41.1 L69.0,41.1 L70.3,41.1 L71.7,41.1 L73.0,41.1 L74.3,41.1 L75.6,41.1 L77.0,41.1 L78.3,41.1 L79.6,41.1 L81.0,41.1 L82.3,41.1 L83.6,41.1 L84.9,41.1 L86.3,41.1 L87.6,41.1 L88.9,41.2 L90.3,41.2 L91.6,41.2 L92.9,41.2 L94.3,41.2 L95.6,41.2 L96.9,41.3 L98.2,41.3 L99.6,41.3 L100.9,41.3 L102.2,41.3 L103.5,41.4 L104.9,41.4 L106.2,41.4 L107.5,41.5 L108.9,41.5 L110.2,41.6 L111.5,41.6 L112.8,41.7 L114.2,41.7 L115.5,41.8 L116.8,41.9 L118.1,42.0 L119.5,42.1 L120.8,42.2 L122.1,42.3 L123.4,42.4 L124.7,42.6 L126.1,42.8 L127.4,42.9 L128.7,43.1 L130.0,43.3 L131.3,43.6 L132.7,43.8 L134.0,44.1 L135.3,44.4 L136.6,44.7 L137.9,45.1 L139.3,45.4 L140.6,45.8 L141.9,46.2 L143.2,46.7 L144.5,47.1 L145.8,47.6 L147.2,48.2 L148.5,48.7 L149.8,49.3 L151.1,49.9 L152.4,50.5 L153.8,51.2 L155.1,51.8 L156.4,52.5 L157.7,53.2 L159.1,54.0 L160.4,54.7 L161.7,55.5 L163.0,56.3 L164.4,57.1 L165.7,57.9 L167.0,58.8 L168.3,59.6 L169.7,60.5 L171.0,61.4 L172.3,62.3 L173.6,63.1 L175.0,64.0 L176.3,65.0 L177.6,65.9 L178.9,66.8 L180.3,67.7 L181.6,68.7 L182.9,69.6 L184.3,70.5 L185.6,71.5 L186.9,72.4 L188.2,73.4 L189.6,74.4 L190.9,75.3 L192.2,76.3 L193.6,77.3 L194.9,78.2 L196.2,79.2 L197.6,80.2 L198.9,81.1 L200.2,82.1 L201.5,83.1 L202.9,84.1 L204.2,85.0 L205.5,86.0 L206.9,87.0 L208.2,88.0 L209.5,89.0 L210.5,87.7 L209.1,86.7 L207.8,85.7 L206.5,84.7 L205.2,83.8 L203.8,82.8 L202.5,81.8 L201.2,80.8 L199.8,79.8 L198.5,78.9 L197.2,77.9 L195.8,76.9 L194.5,76.0 L193.2,75.0 L191.8,74.0 L190.5,73.1 L189.2,72.1 L187.9,71.1 L186.5,70.2 L185.2,69.2 L183.9,68.3 L182.5,67.4 L181.2,66.4 L179.9,65.5 L178.5,64.6 L177.2,63.6 L175.9,62.7 L174.5,61.8 L173.2,60.9 L171.9,60.0 L170.5,59.2 L169.2,58.3 L167.9,57.4 L166.5,56.6 L165.2,55.8 L163.9,54.9 L162.5,54.1 L161.2,53.4 L159.8,52.6 L158.5,51.8 L157.2,51.1 L155.8,50.4 L154.5,49.7 L153.1,49.1 L151.8,48.4 L150.5,47.8 L149.1,47.2 L147.8,46.6 L146.4,46.1 L145.1,45.6 L143.8,45.1 L142.4,44.6 L141.1,44.2 L139.7,43.7 L138.4,43.4 L137.1,43.0 L135.7,42.6 L134.4,42.3 L133.0,42.0 L131.7,41.8 L130.3,41.5 L129.0,41.3 L127.7,41.0 L126.3,40.8 L125.0,40.7 L123.6,40.5 L122.3,40.3 L121.0,40.2 L119.6,40.1 L118.3,39.9 L117.0,39.8 L115.6,39.7 L114.3,39.6 L112.9,39.5 L111.6,39.5 L110.3,39.4 L108.9,39.3 L107.6,39.3 L106.3,39.2 L104.9,39.2 L103.6,39.1 L102.3,39.1 L100.9,39.0 L99.6,39.0 L98.3,39.0 L96.9,39.0 L95.6,38.9 L94.3,38.9 L93.0,38.9 L91.6,38.9 L90.3,38.9 L89.0,38.9 L87.6,38.8 L86.3,38.8 L85.0,38.8 L83.6,38.8 L82.3,38.8 L81.0,38.8 L79.6,38.8 L78.3,38.8 L77.0,38.8 L75.6,38.8 L74.3,38.8 L73.0,38.8 L71.7,38.8 L70.3,38.8 L69.0,38.8 L67.7,38.8 L66.3,38.8 L65.0,38.8 L63.7,38.8 L62.3,38.8 L61.0,38.8 L59.7,38.8 L58.4,38.8 L57.0,38.8 L55.7,38.8 L54.4,38.8 L53.0,38.8 L51.7,38.8Z" fill="#000"/>
</g>
<path d="M52.0,221.6 v-2.5 M52.0,12.7 v2.5 M71.3,221.6 v-2.5 M71.3,12.7 v2.5 M86.2,221.6 v-2.5 M86.2,12.7 v2.5 M98.4,221.6 v-2.5 M98.4,12.7 v2.5 M108.7,221.6 v-2.5 M108.7,12.7 v2.5 M117.6,221.6 v-2.5 M117.6,12.7 v2.5 M125.5,221.6 v-2.5 M125.5,12.7 v2.5 M132.5,221.6 v-5 M132.5,12.7 v5 M178.8,221.6 v-2.5 M178.8,12.7 v2.5 M205.9,221.6 v-2.5 M205.9,12.7 v2.5 M225.2,221.6 v-2.5 M225.2,12.7 v2.5 M240.1,221.6 v-2.5 M240.1,12.7 v2.5 M252.3,221.6 v-2.5 M252.3,12.7 v2.5 M262.6,221.6 v-2.5 M262.6,12.7 v2.5 M271.5,221.6 v-2.5 M271.5,12.7 v2.5 M279.4,221.6 v-2.5 M279.4,12.7 v2.5 M286.4,221.6 v-5 M286.4,12.7 v5 M332.7,221.6 v-2.5 M332.7,12.7 v2.5" stroke="#000" stroke-width="1.0" fill="none"/>
<path d="M52.7,219.7 h2.5 M332.6,219.7 h-2.5 M52.7,200.6 h2.5 M332.6,200.6 h-2.5 M52.7,198.3 h2.5 M332.6,198.3 h-2.5 M52.7,179.2 h2.5 M332.6,179.2 h-2.5 M52.7,176.9 h2.5 M332.6,176.9 h-2.5 M52.7,157.8 h2.5 M332.6,157.8 h-2.5 M52.7,155.4 h2.5 M332.6,155.4 h-2.5 M52.7,136.4 h2.5 M332.6,136.4 h-2.5 M52.7,134.0 h2.5 M332.6,134.0 h-2.5 M52.7,115.0 h2.5 M332.6,115.0 h-2.5 M52.7,112.6 h2.5 M332.6,112.6 h-2.5 M52.7,93.6 h2.5 M332.6,93.6 h-2.5 M52.7,91.2 h2.5 M332.6,91.2 h-2.5 M52.7,72.1 h2.5 M332.6,72.1 h-2.5 M52.7,69.8 h2.5 M332.6,69.8 h-2.5 M52.7,50.7 h2.5 M332.6,50.7 h-2.5 M52.7,48.4 h2.5 M332.6,48.4 h-2.5 M52.7,29.3 h2.5 M332.6,29.3 h-2.5 M52.7,27.0 h2.5 M332.6,27.0 h-2.5" stroke="#000" stroke-width="1.0" fill="none" opacity="0.25"/><path d="M52.7,218.7 h5 M332.6,218.7 h-5 M52.7,212.3 h2.5 M332.6,212.3 h-2.5 M52.7,197.3 h5 M332.6,197.3 h-5 M52.7,190.8 h2.5 M332.6,190.8 h-2.5 M52.7,175.9 h5 M332.6,175.9 h-5 M52.7,169.4 h2.5 M332.6,169.4 h-2.5 M52.7,154.5 h5 M332.6,154.5 h-5 M52.7,148.0 h2.5 M332.6,148.0 h-2.5 M52.7,133.1 h5 M332.6,133.1 h-5 M52.7,126.6 h2.5 M332.6,126.6 h-2.5 M52.7,111.6 h5 M332.6,111.6 h-5 M52.7,105.2 h2.5 M332.6,105.2 h-2.5 M52.7,90.2 h5 M332.6,90.2 h-5 M52.7,83.8 h2.5 M332.6,83.8 h-2.5 M52.7,68.8 h5 M332.6,68.8 h-5 M52.7,62.4 h2.5 M332.6,62.4 h-2.5 M52.7,47.4 h5 M332.6,47.4 h-5 M52.7,41.0 h2.5 M332.6,41.0 h-2.5 M52.7,26.0 h5 M332.6,26.0 h-5 M52.7,19.6 h2.5 M332.6,19.6 h-2.5" stroke="#000" stroke-width="1.0" fill="none" opacity="1.0"/><path d="M52.7,208.5 h2.5 M332.6,208.5 h-2.5 M52.7,203.7 h2.5 M332.6,203.7 h-2.5 M52.7,187.1 h2.5 M332.6,187.1 h-2.5 M52.7,182.3 h2.5 M332.6,182.3 h-2.5 M52.7,165.7 h2.5 M332.6,165.7 h-2.5 M52.7,160.9 h2.5 M332.6,160.9 h-2.5 M52.7,144.3 h2.5 M332.6,144.3 h-2.5 M52.7,139.5 h2.5 M332.6,139.5 h-2.5 M52.7,122.8 h2.5 M332.6,122.8 h-2.5 M52.7,118.1 h2.5 M332.6,118.1 h-2.5 M52.7,101.4 h2.5 M332.6,101.4 h-2.5 M52.7,96.7 h2.5 M332.6,96.7 h-2.5 M52.7,80.0 h2.5 M332.6,80.0 h-2.5 M52.7,75.3 h2.5 M332.6,75.3 h-2.5 M52.7,58.6 h2.5 M332.6,58.6 h-2.5 M52.7,53.9 h2.5 M332.6,53.9 h-2.5 M52.7,37.2 h2.5 M332.6,37.2 h-2.5 M52.7,32.5 h2.5 M332.6,32.5 h-2.5" stroke="#000" stroke-width="1.0" fill="none" opacity="0.35"/><path d="M52.7,205.8 h2.5 M332.6,205.8 h-2.5 M52.7,184.4 h2.5 M332.6,184.4 h-2.5 M52.7,163.0 h2.5 M332.6,163.0 h-2.5 M52.7,141.6 h2.5 M332.6,141.6 h-2.5 M52.7,120.2 h2.5 M332.6,120.2 h-2.5 M52.7,98.8 h2.5 M332.6,98.8 h-2.5 M52.7,77.3 h2.5 M332.6,77.3 h-2.5 M52.7,55.9 h2.5 M332.6,55.9 h-2.5 M52.7,34.5 h2.5 M332.6,34.5 h-2.5" stroke="#000" stroke-width="1.0" fill="none" opacity="0.7"/><path d="M52.7,202.0 h2.5 M332.6,202.0 h-2.5 M52.7,180.6 h2.5 M332.6,180.6 h-2.5 M52.7,159.2 h2.5 M332.6,159.2 h-2.5 M52.7,137.8 h2.5 M332.6,137.8 h-2.5 M52.7,116.4 h2.5 M332.6,116.4 h-2.5 M52.7,95.0 h2.5 M332.6,95.0 h-2.5 M52.7,73.6 h2.5 M332.6,73.6 h-2.5 M52.7,52.2 h2.5 M332.6,52.2 h-2.5 M52.7,30.8 h2.5 M332.6,30.8 h-2.5" stroke="#000" stroke-width="1.0" fill="none" opacity="0.85"/><path d="M52.7,199.4 h2.5 M332.6,199.4 h-2.5 M52.7,178.0 h2.5 M332.6,178.0 h-2.5 M52.7,156.5 h2.5 M332.6,156.5 h-2.5 M52.7,135.1 h2.5 M332.6,135.1 h-2.5 M52.7,113.7 h2.5 M332.6,113.7 h-2.5 M52.7,92.3 h2.5 M332.6,92.3 h-2.5 M52.7,70.9 h2.5 M332.6,70.9 h-2.5 M52.7,49.5 h2.5 M332.6,49.5 h-2.5 M52.7,28.1 h2.5 M332.6,28.1 h-2.5" stroke="#000" stroke-width="1.0" fill="none" opacity="0.5"/>
<rect x="52.7" y="12.7" width="279.90000000000003" height="208.9" fill="none" stroke="#000" stroke-width="1.5"/>
<rect x="87.7" y="96.1" width="108.2" height="83.4" fill="#fff"/>
<g clip-path="url(#ci)">
<path d="M84.0,104.6 L84.9,104.6 L85.8,104.6 L86.7,104.6 L87.6,104.6 L88.5,104.6 L89.3,104.6 L90.2,104.6 L91.1,104.6 L92.0,104.6 L92.9,104.6 L93.8,104.6 L94.7,104.6 L95.6,104.6 L96.5,104.6 L97.4,104.6 L98.3,104.6 L99.1,104.7 L100.0,104.7 L100.9,104.7 L101.8,104.7 L102.7,104.7 L103.6,104.7 L104.5,104.7 L105.4,104.7 L106.3,104.7 L107.2,104.7 L108.1,104.8 L108.9,104.8 L109.8,104.8 L110.7,104.9 L111.6,104.9 L112.5,105.0 L113.4,105.1 L114.3,105.1 L115.2,105.2 L116.1,105.3 L116.9,105.4 L117.8,105.6 L118.7,105.7 L119.6,105.8 L120.5,106.0 L121.3,106.2 L122.2,106.3 L123.1,106.6 L123.9,106.8 L124.8,107.1 L125.6,107.4 L126.5,107.7 L127.3,108.0 L128.1,108.4 L128.9,108.9 L129.6,109.3 L130.4,109.8 L131.1,110.3 L131.8,110.8 L132.6,111.3 L133.3,111.8 L134.0,112.4 L134.7,113.0 L135.4,113.5 L136.0,114.1 L136.7,114.7 L137.3,115.3 L138.0,116.0 L138.6,116.6 L139.2,117.2 L139.9,117.9 L140.5,118.5 L141.1,119.1 L141.7,119.8 L142.3,120.4 L142.9,121.1 L143.6,121.7 L144.2,122.4 L144.8,123.0 L145.4,123.7 L145.9,124.4 L146.5,125.0 L147.1,125.7 L147.7,126.4 L148.3,127.0 L148.9,127.7 L149.4,128.4 L150.0,129.1 L150.6,129.8 L151.2,130.4 L151.8,131.1 L152.4,131.8 L152.9,132.4 L153.5,133.1 L154.1,133.8 L154.7,134.5 L155.3,135.1 L155.9,135.8 L156.5,136.4 L157.2,137.0 L157.8,137.7 L158.4,138.3 L159.1,138.9 L159.7,139.5 L160.3,140.2 L160.9,140.9 L161.4,141.6 L161.9,142.3 L162.4,143.1 L162.9,143.8 L163.3,144.6 L163.8,145.4 L164.2,146.1 L164.7,146.9 L165.1,147.7 L165.6,148.4 L166.1,149.2 L166.5,149.9 L167.0,150.7 L167.5,151.5 L167.9,152.2 L168.4,153.0 L168.9,153.7 L169.4,154.5 L169.8,155.2 L170.3,156.0 L170.8,156.8 L171.2,157.5 L171.7,158.3 L172.2,159.0 L172.8,159.7 L173.4,160.3 L174.0,161.0 L174.6,161.6 L175.3,162.2 L176.1,162.7 L176.8,163.1 L177.6,163.6 L178.3,164.1 L179.1,164.5 L179.9,164.9 L180.8,165.2 L181.6,165.5 L182.4,165.8 L183.3,166.1 L184.1,166.4 L185.0,166.7 L185.8,167.1 L186.6,167.4 L187.4,167.8 L188.2,168.2 L189.0,168.6 L189.8,168.9 L190.6,169.3 L191.5,169.6 L192.3,169.9 L193.1,170.3 L193.9,170.6 L194.8,171.0 L195.6,171.3 L196.4,171.7 L197.2,172.1 L198.0,172.5" fill="none" stroke="#0000ff" stroke-width="4.0" stroke-linejoin="round" stroke-linecap="butt"/>
<path d="M84.0,103.0 L84.9,103.0 L85.8,103.0 L86.7,103.0 L87.6,103.0 L88.5,103.0 L89.4,103.0 L90.3,103.0 L91.2,103.0 L92.1,103.0 L93.0,103.0 L93.9,103.0 L94.7,103.0 L95.6,103.0 L96.5,103.0 L97.4,103.0 L98.3,103.0 L99.2,103.0 L100.1,103.0 L101.0,103.1 L101.9,103.1 L102.8,103.1 L103.7,103.1 L104.6,103.1 L105.5,103.1 L106.4,103.2 L107.3,103.2 L108.2,103.3 L109.1,103.3 L110.0,103.4 L110.9,103.5 L111.7,103.6 L112.6,103.7 L113.5,103.8 L114.4,103.9 L115.3,104.1 L116.2,104.2 L117.1,104.4 L117.9,104.6 L118.8,104.8 L119.7,105.0 L120.5,105.2 L121.4,105.5 L122.3,105.7 L123.1,106.0 L123.9,106.4 L124.8,106.7 L125.6,107.1 L126.4,107.5 L127.1,108.0 L127.9,108.4 L128.6,108.9 L129.4,109.4 L130.1,110.0 L130.8,110.5 L131.5,111.0 L132.2,111.6 L132.9,112.2 L133.6,112.7 L134.3,113.3 L135.0,113.9 L135.6,114.5 L136.3,115.2 L136.9,115.8 L137.5,116.4 L138.2,117.0 L138.8,117.7 L139.4,118.3 L140.0,119.0 L140.7,119.6 L141.3,120.3 L141.9,120.9 L142.5,121.6 L143.1,122.2 L143.8,122.8 L144.4,123.5 L145.0,124.1 L145.6,124.8 L146.2,125.4 L146.8,126.1 L147.4,126.8 L148.1,127.4 L148.7,128.1 L149.3,128.7 L149.9,129.4 L150.5,130.1 L151.1,130.7 L151.7,131.3 L152.4,131.9 L153.0,132.6 L153.7,133.2 L154.3,133.8 L154.9,134.5 L155.6,135.1 L156.2,135.7 L156.9,136.3 L157.6,136.9 L158.3,137.5 L158.9,138.0 L159.6,138.6 L160.3,139.2 L160.9,139.8 L161.5,140.5 L162.1,141.2 L162.7,141.9 L163.2,142.6 L163.7,143.4 L164.1,144.1 L164.6,144.9 L165.1,145.7 L165.5,146.4 L166.0,147.2 L166.5,148.0 L166.9,148.7 L167.4,149.5 L167.9,150.2 L168.4,151.0 L168.8,151.8 L169.3,152.5 L169.7,153.3 L170.2,154.1 L170.7,154.8 L171.1,155.6 L171.6,156.4 L172.0,157.2 L172.5,157.9 L172.8,158.7 L173.3,159.5 L173.7,160.3 L174.3,161.0 L174.9,161.7 L175.5,162.3 L176.0,163.0 L176.7,163.7 L177.3,164.3 L178.1,164.8 L178.9,165.2 L179.7,165.5 L180.6,165.8 L181.4,166.1 L182.3,166.4 L183.1,166.7 L183.9,167.1 L184.7,167.5 L185.5,168.0 L186.3,168.3 L187.1,168.7 L187.9,169.0 L188.8,169.3 L189.6,169.7 L190.4,170.0 L191.3,170.3 L192.1,170.7 L192.9,171.0 L193.8,171.3 L194.6,171.7 L195.4,172.0 L196.3,172.3 L197.1,172.6 L198.0,172.6" fill="none" stroke="#008000" stroke-width="4.0" stroke-linejoin="round" stroke-linecap="butt"/>
<path d="M84.0,101.1 L84.9,101.1 L85.8,101.1 L86.7,101.1 L87.6,101.1 L88.5,101.1 L89.4,101.1 L90.3,101.1 L91.2,101.1 L92.1,101.1 L93.0,101.1 L93.9,101.1 L94.8,101.1 L95.7,101.1 L96.6,101.1 L97.5,101.1 L98.4,101.2 L99.3,101.2 L100.1,101.2 L101.0,101.2 L101.9,101.2 L102.8,101.3 L103.7,101.3 L104.6,101.4 L105.5,101.4 L106.4,101.5 L107.3,101.6 L108.2,101.8 L109.1,101.9 L110.0,102.0 L110.8,102.2 L111.7,102.4 L112.6,102.6 L113.5,102.8 L114.3,103.0 L115.2,103.3 L116.1,103.5 L116.9,103.8 L117.8,104.1 L118.6,104.4 L119.4,104.8 L120.2,105.2 L121.0,105.6 L121.8,106.0 L122.6,106.5 L123.4,106.9 L124.1,107.4 L124.8,108.0 L125.5,108.5 L126.2,109.1 L126.9,109.7 L127.6,110.2 L128.3,110.8 L129.0,111.4 L129.7,112.0 L130.3,112.6 L131.0,113.2 L131.6,113.8 L132.3,114.4 L132.9,115.1 L133.5,115.7 L134.2,116.3 L134.8,117.0 L135.4,117.6 L136.0,118.3 L136.7,118.9 L137.3,119.6 L137.9,120.2 L138.5,120.9 L139.1,121.5 L139.7,122.2 L140.3,122.8 L141.0,123.5 L141.6,124.2 L142.2,124.8 L142.8,125.5 L143.4,126.1 L144.0,126.8 L144.6,127.5 L145.2,128.1 L145.8,128.8 L146.4,129.4 L147.0,130.1 L147.6,130.8 L148.2,131.4 L148.8,132.1 L149.4,132.8 L150.1,133.4 L150.7,134.1 L151.3,134.7 L151.9,135.4 L152.5,136.0 L153.2,136.6 L153.8,137.2 L154.5,137.9 L155.2,138.5 L155.8,139.1 L156.4,139.7 L157.0,140.4 L157.6,141.1 L158.1,141.8 L158.7,142.5 L159.1,143.3 L159.6,144.1 L160.1,144.8 L160.5,145.6 L160.9,146.4 L161.4,147.2 L161.9,147.9 L162.3,148.7 L162.8,149.4 L163.3,150.2 L163.8,150.9 L164.3,151.7 L164.8,152.4 L165.4,153.2 L165.9,153.9 L166.4,154.6 L166.9,155.4 L167.4,156.1 L167.9,156.8 L168.4,157.6 L168.9,158.3 L169.3,159.1 L169.8,159.9 L170.3,160.6 L170.9,161.3 L171.6,161.9 L172.3,162.5 L173.0,163.0 L173.7,163.5 L174.5,164.0 L175.3,164.4 L176.1,164.8 L176.9,165.2 L177.8,165.4 L178.6,165.7 L179.5,166.0 L180.3,166.2 L181.2,166.5 L182.0,166.9 L182.8,167.2 L183.7,167.6 L184.5,168.0 L185.3,168.3 L186.1,168.6 L187.0,168.9 L187.8,169.2 L188.7,169.5 L189.5,169.9 L190.4,170.2 L191.2,170.5 L192.0,170.8 L192.9,171.1 L193.7,171.4 L194.6,171.7 L195.4,172.0 L196.2,172.3 L197.1,172.6 L198.0,172.6" fill="none" stroke="#ff0000" stroke-width="4.0" stroke-linejoin="round" stroke-linecap="butt"/>
<path d="M84.0,99.6 L84.9,99.6 L85.8,99.6 L86.7,99.6 L87.6,99.6 L88.5,99.6 L89.4,99.6 L90.3,99.6 L91.1,99.6 L92.0,99.6 L92.9,99.7 L93.8,99.7 L94.7,99.7 L95.6,99.7 L96.5,99.7 L97.4,99.8 L98.3,99.8 L99.2,99.9 L100.1,100.0 L101.0,100.1 L101.9,100.2 L102.7,100.3 L103.6,100.5 L104.5,100.7 L105.4,100.9 L106.2,101.1 L107.1,101.3 L107.9,101.6 L108.8,101.9 L109.6,102.2 L110.5,102.5 L111.3,102.8 L112.1,103.1 L113.0,103.5 L113.8,103.9 L114.6,104.3 L115.3,104.7 L116.1,105.1 L116.9,105.6 L117.6,106.1 L118.4,106.6 L119.1,107.1 L119.8,107.7 L120.5,108.2 L121.2,108.8 L121.9,109.4 L122.5,110.0 L123.2,110.5 L123.9,111.1 L124.6,111.7 L125.2,112.3 L125.9,112.9 L126.5,113.5 L127.2,114.2 L127.8,114.8 L128.4,115.4 L129.0,116.1 L129.7,116.7 L130.3,117.4 L130.9,118.0 L131.5,118.7 L132.1,119.3 L132.7,120.0 L133.3,120.6 L134.0,121.3 L134.6,121.9 L135.2,122.6 L135.8,123.2 L136.4,123.9 L137.0,124.5 L137.6,125.2 L138.2,125.8 L138.8,126.5 L139.4,127.2 L140.0,127.8 L140.6,128.5 L141.2,129.1 L141.8,129.8 L142.4,130.5 L143.1,131.1 L143.7,131.8 L144.3,132.4 L144.9,133.1 L145.5,133.8 L146.1,134.4 L146.7,135.1 L147.3,135.7 L148.0,136.3 L148.6,136.9 L149.3,137.5 L149.9,138.2 L150.6,138.8 L151.2,139.4 L151.8,140.0 L152.5,140.7 L153.0,141.3 L153.6,142.0 L154.1,142.8 L154.7,143.5 L155.2,144.2 L155.7,145.0 L156.2,145.7 L156.7,146.4 L157.2,147.2 L157.7,147.9 L158.2,148.6 L158.7,149.4 L159.2,150.1 L159.8,150.8 L160.3,151.6 L160.8,152.3 L161.3,153.0 L161.8,153.7 L162.3,154.5 L162.9,155.2 L163.4,155.9 L163.9,156.6 L164.4,157.4 L164.9,158.1 L165.5,158.8 L166.1,159.5 L166.7,160.1 L167.4,160.7 L168.0,161.3 L168.8,161.8 L169.5,162.3 L170.3,162.8 L171.1,163.2 L171.9,163.6 L172.7,164.0 L173.5,164.3 L174.3,164.6 L175.2,165.0 L176.0,165.2 L176.9,165.5 L177.7,165.7 L178.6,165.9 L179.5,166.2 L180.3,166.5 L181.2,166.7 L182.0,167.0 L182.9,167.3 L183.7,167.7 L184.5,168.0 L185.4,168.3 L186.2,168.6 L187.0,168.9 L187.9,169.3 L188.7,169.6 L189.5,169.9 L190.4,170.2 L191.2,170.5 L192.1,170.8 L192.9,171.1 L193.7,171.4 L194.6,171.7 L195.4,172.0 L196.3,172.3 L197.1,172.6 L198.0,172.6" fill="none" stroke="#ffa500" stroke-width="4.0" stroke-linejoin="round" stroke-linecap="butt"/>
<path d="M86.0,97.3 L86.9,97.3 L87.8,97.3 L88.6,97.3 L89.5,97.4 L90.4,97.4 L91.3,97.4 L92.1,97.5 L93.0,97.5 L93.9,97.6 L94.7,97.7 L95.6,97.8 L96.5,97.9 L97.3,98.1 L98.2,98.2 L99.1,98.4 L99.9,98.7 L100.7,99.0 L101.6,99.2 L102.4,99.5 L103.2,99.8 L104.0,100.2 L104.8,100.5 L105.6,100.8 L106.4,101.2 L107.2,101.5 L108.0,101.9 L108.8,102.2 L109.6,102.6 L110.4,103.0 L111.2,103.4 L112.0,103.8 L112.7,104.2 L113.5,104.7 L114.2,105.1 L115.0,105.6 L115.7,106.1 L116.4,106.6 L117.1,107.1 L117.8,107.7 L118.5,108.2 L119.2,108.8 L119.8,109.4 L120.5,109.9 L121.2,110.5 L121.8,111.1 L122.5,111.6 L123.1,112.2 L123.8,112.8 L124.4,113.4 L125.0,114.0 L125.7,114.6 L126.3,115.2 L126.9,115.9 L127.5,116.5 L128.1,117.1 L128.7,117.8 L129.3,118.4 L129.9,119.0 L130.5,119.7 L131.1,120.3 L131.7,120.9 L132.4,121.6 L133.0,122.2 L133.6,122.8 L134.2,123.5 L134.8,124.1 L135.4,124.7 L136.0,125.4 L136.6,126.0 L137.2,126.7 L137.8,127.3 L138.3,128.0 L138.9,128.6 L139.5,129.2 L140.1,129.9 L140.7,130.5 L141.3,131.2 L141.9,131.8 L142.5,132.5 L143.1,133.1 L143.7,133.7 L144.3,134.4 L144.9,135.0 L145.5,135.6 L146.2,136.2 L146.8,136.8 L147.4,137.4 L148.1,138.0 L148.7,138.6 L149.3,139.2 L150.0,139.8 L150.6,140.5 L151.2,141.1 L151.7,141.8 L152.3,142.5 L152.8,143.2 L153.3,143.9 L153.8,144.6 L154.3,145.3 L154.8,146.1 L155.3,146.8 L155.8,147.5 L156.3,148.2 L156.8,148.9 L157.3,149.6 L157.8,150.3 L158.4,151.0 L158.9,151.7 L159.4,152.4 L160.0,153.1 L160.5,153.8 L161.0,154.5 L161.6,155.2 L162.1,155.9 L162.6,156.6 L163.2,157.3 L163.7,158.0 L164.3,158.6 L164.9,159.3 L165.5,159.9 L166.2,160.5 L166.8,161.0 L167.6,161.5 L168.3,162.0 L169.1,162.4 L169.8,162.8 L170.6,163.2 L171.4,163.6 L172.2,163.9 L173.0,164.3 L173.8,164.6 L174.7,164.9 L175.5,165.2 L176.3,165.4 L177.2,165.6 L178.0,165.8 L178.9,166.1 L179.7,166.3 L180.6,166.6 L181.4,166.9 L182.2,167.1 L183.0,167.4 L183.9,167.7 L184.7,168.1 L185.5,168.4 L186.3,168.7 L187.1,169.0 L188.0,169.3 L188.8,169.6 L189.6,169.9 L190.4,170.2 L191.2,170.5 L192.1,170.8 L192.9,171.1 L193.7,171.4 L194.5,171.7 L195.4,172.0 L196.2,172.3 L197.0,172.6" fill="none" stroke="#a52a2a" stroke-width="4.0" stroke-linejoin="round" stroke-linecap="butt"/>
</g>
<path d="M99.2,97.0 V105.4" stroke="#fff" stroke-width="0.6" opacity="0.85"/><path d="M101.6,99 V104.8" stroke="#fff" stroke-width="0.5" opacity="0.35"/>
<path d="M86.5,179.5 v-2.6 M86.5,96.1 v2.6 M94.0,179.5 v-2.6 M94.0,96.1 v2.6 M99.8,179.5 v-2.6 M99.8,96.1 v2.6 M104.5,179.5 v-2.6 M104.5,96.1 v2.6 M108.5,179.5 v-2.6 M108.5,96.1 v2.6 M111.9,179.5 v-2.6 M111.9,96.1 v2.6 M115.0,179.5 v-2.6 M115.0,96.1 v2.6 M117.7,179.5 v-5.2 M117.7,96.1 v5.2 M135.6,179.5 v-2.6 M135.6,96.1 v2.6 M146.1,179.5 v-2.6 M146.1,96.1 v2.6 M153.6,179.5 v-2.6 M153.6,96.1 v2.6 M159.4,179.5 v-2.6 M159.4,96.1 v2.6 M164.1,179.5 v-2.6 M164.1,96.1 v2.6 M168.1,179.5 v-2.6 M168.1,96.1 v2.6 M171.5,179.5 v-2.6 M171.5,96.1 v2.6 M174.6,179.5 v-2.6 M174.6,96.1 v2.6 M177.3,179.5 v-5.2 M177.3,96.1 v5.2 M195.2,179.5 v-2.6 M195.2,96.1 v2.6" stroke="#000" stroke-width="1.0" fill="none"/>
<path d="M87.7,178.4 h5.2 M195.9,178.4 h-5.2 M87.7,175.3 h2.6 M195.9,175.3 h-2.6 M87.7,168.0 h5.2 M195.9,168.0 h-5.2 M87.7,164.9 h2.6 M195.9,164.9 h-2.6 M87.7,157.6 h5.2 M195.9,157.6 h-5.2 M87.7,154.5 h2.6 M195.9,154.5 h-2.6 M87.7,147.2 h5.2 M195.9,147.2 h-5.2 M87.7,144.1 h2.6 M195.9,144.1 h-2.6 M87.7,136.8 h5.2 M195.9,136.8 h-5.2 M87.7,133.7 h2.6 M195.9,133.7 h-2.6 M87.7,126.4 h5.2 M195.9,126.4 h-5.2 M87.7,123.3 h2.6 M195.9,123.3 h-2.6 M87.7,116.0 h5.2 M195.9,116.0 h-5.2 M87.7,112.9 h2.6 M195.9,112.9 h-2.6 M87.7,105.6 h5.2 M195.9,105.6 h-5.2 M87.7,102.5 h2.6 M195.9,102.5 h-2.6" stroke="#000" stroke-width="1.0" fill="none" opacity="1.0"/><path d="M87.7,173.4 h2.6 M195.9,173.4 h-2.6 M87.7,171.1 h2.6 M195.9,171.1 h-2.6 M87.7,163.0 h2.6 M195.9,163.0 h-2.6 M87.7,160.7 h2.6 M195.9,160.7 h-2.6 M87.7,152.6 h2.6 M195.9,152.6 h-2.6 M87.7,150.3 h2.6 M195.9,150.3 h-2.6 M87.7,142.2 h2.6 M195.9,142.2 h-2.6 M87.7,139.9 h2.6 M195.9,139.9 h-2.6 M87.7,131.8 h2.6 M195.9,131.8 h-2.6 M87.7,129.5 h2.6 M195.9,129.5 h-2.6 M87.7,121.4 h2.6 M195.9,121.4 h-2.6 M87.7,119.1 h2.6 M195.9,119.1 h-2.6 M87.7,111.0 h2.6 M195.9,111.0 h-2.6 M87.7,108.7 h2.6 M195.9,108.7 h-2.6 M87.7,100.6 h2.6 M195.9,100.6 h-2.6 M87.7,98.3 h2.6 M195.9,98.3 h-2.6" stroke="#000" stroke-width="1.0" fill="none" opacity="0.35"/><path d="M87.7,172.1 h2.6 M195.9,172.1 h-2.6 M87.7,161.7 h2.6 M195.9,161.7 h-2.6 M87.7,151.3 h2.6 M195.9,151.3 h-2.6 M87.7,140.9 h2.6 M195.9,140.9 h-2.6 M87.7,130.5 h2.6 M195.9,130.5 h-2.6 M87.7,120.1 h2.6 M195.9,120.1 h-2.6 M87.7,109.7 h2.6 M195.9,109.7 h-2.6 M87.7,99.3 h2.6 M195.9,99.3 h-2.6" stroke="#000" stroke-width="1.0" fill="none" opacity="0.7"/><path d="M87.7,170.3 h2.6 M195.9,170.3 h-2.6 M87.7,159.9 h2.6 M195.9,159.9 h-2.6 M87.7,149.5 h2.6 M195.9,149.5 h-2.6 M87.7,139.1 h2.6 M195.9,139.1 h-2.6 M87.7,128.7 h2.6 M195.9,128.7 h-2.6 M87.7,118.3 h2.6 M195.9,118.3 h-2.6 M87.7,107.9 h2.6 M195.9,107.9 h-2.6 M87.7,97.5 h2.6 M195.9,97.5 h-2.6" stroke="#000" stroke-width="1.0" fill="none" opacity="0.85"/><path d="M87.7,169.6 h2.6 M195.9,169.6 h-2.6 M87.7,168.5 h2.6 M195.9,168.5 h-2.6 M87.7,159.2 h2.6 M195.9,159.2 h-2.6 M87.7,158.1 h2.6 M195.9,158.1 h-2.6 M87.7,148.8 h2.6 M195.9,148.8 h-2.6 M87.7,147.7 h2.6 M195.9,147.7 h-2.6 M87.7,138.4 h2.6 M195.9,138.4 h-2.6 M87.7,137.3 h2.6 M195.9,137.3 h-2.6 M87.7,128.0 h2.6 M195.9,128.0 h-2.6 M87.7,126.9 h2.6 M195.9,126.9 h-2.6 M87.7,117.6 h2.6 M195.9,117.6 h-2.6 M87.7,116.5 h2.6 M195.9,116.5 h-2.6 M87.7,107.2 h2.6 M195.9,107.2 h-2.6 M87.7,106.1 h2.6 M195.9,106.1 h-2.6 M87.7,96.8 h2.6 M195.9,96.8 h-2.6 M87.7,95.7 h2.6 M195.9,95.7 h-2.6" stroke="#000" stroke-width="1.0" fill="none" opacity="0.25"/><path d="M87.7,169.0 h2.6 M195.9,169.0 h-2.6 M87.7,158.6 h2.6 M195.9,158.6 h-2.6 M87.7,148.2 h2.6 M195.9,148.2 h-2.6 M87.7,137.8 h2.6 M195.9,137.8 h-2.6 M87.7,127.4 h2.6 M195.9,127.4 h-2.6 M87.7,117.0 h2.6 M195.9,117.0 h-2.6 M87.7,106.6 h2.6 M195.9,106.6 h-2.6 M87.7,96.2 h2.6 M195.9,96.2 h-2.6" stroke="#000" stroke-width="1.0" fill="none" opacity="0.5"/>
<rect x="87.7" y="96.1" width="108.2" height="83.4" fill="none" stroke="#000" stroke-width="1.5"/>
<text x="46.6" y="53.01999999999999" font-size="12.6" text-anchor="end">10<tspan font-size="9.1" dy="-5.3">6</tspan></text>
<text x="46.6" y="95.83999999999997" font-size="12.6" text-anchor="end">10<tspan font-size="9.1" dy="-5.3">4</tspan></text>
<text x="46.6" y="138.66" font-size="12.6" text-anchor="end">10<tspan font-size="9.1" dy="-5.3">2</tspan></text>
<text x="45.6" y="180.1" font-size="12.0" text-anchor="end">1</text>
<text x="47.6" y="224.29999999999998" font-size="12.6" text-anchor="end">10<tspan font-size="9.1" dy="-5.3">−2</tspan></text>
<text x="132.5" y="235.2" font-size="12.0" text-anchor="middle">0.1</text>
<text x="286.4" y="235.2" font-size="12.0" text-anchor="middle">1</text>
<text x="82.0" y="111.19999999999999" font-size="12.6" text-anchor="end">10<tspan font-size="9.1" dy="-5.3">6</tspan></text>
<text x="82.0" y="132.0" font-size="12.6" text-anchor="end">10<tspan font-size="9.1" dy="-5.3">4</tspan></text>
<text x="82.0" y="152.79999999999998" font-size="12.6" text-anchor="end">10<tspan font-size="9.1" dy="-5.3">2</tspan></text>
<text x="81.2" y="172.6" font-size="12.0" text-anchor="end">1</text>
<text x="117.7" y="193.8" font-size="12.0" text-anchor="middle">0.1</text>
<text x="177.3" y="193.8" font-size="12.0" text-anchor="middle">1</text>
<text x="107.6" y="250.0" font-size="12.25" text-anchor="start">rescaled momentum</text>
<text x="213.0" y="250.0" font-size="12.0" text-anchor="middle">(</text>
<text x="217.0" y="250.0" font-size="12.0" text-anchor="middle" font-style="italic">t</text>
<text x="221.2" y="250.0" font-size="12.0" text-anchor="middle">/</text>
<text x="226.0" y="250.0" font-size="12.0" text-anchor="middle" font-style="italic">t</text>
<text x="234.5" y="250.0" font-size="12.0" text-anchor="middle">)</text>
<text x="246.0" y="250.0" font-size="12.0" text-anchor="middle" font-style="italic">k</text>
<text x="230.3" y="251.8" font-size="8.4" text-anchor="middle">0</text>
<text x="238.9" y="245.2" font-size="8.4" text-anchor="middle" font-style="italic">β</text>
<text transform="translate(255.8 253.6) scale(0.56 1)" font-size="20.5" text-anchor="middle">[</text>
<text x="259.6" y="250.0" font-size="12.0" text-anchor="middle" font-style="italic">ξ</text>
<text x="265.6" y="245.2" font-size="8.4" text-anchor="middle">−</text>
<text x="270.6" y="245.2" font-size="8.4" text-anchor="middle">1</text>
<text x="265.2" y="253.0" font-size="8.4" text-anchor="middle" font-style="italic">h</text>
<text transform="translate(275.4 253.6) scale(0.56 1)" font-size="20.5" text-anchor="middle">]</text>
<g transform="translate(13.4 212.5) rotate(-90)">
<text x="0.0" y="0.0" font-size="12.1" text-anchor="start">rescaled occ. no.</text>
<text x="86.2" y="-0.2" font-size="12.0" text-anchor="middle">(</text>
<text x="90.5" y="-0.2" font-size="12.0" text-anchor="middle" font-style="italic">t</text>
<text x="95.2" y="-0.2" font-size="12.0" text-anchor="middle">/</text>
<text x="100.0" y="-0.2" font-size="12.0" text-anchor="middle" font-style="italic">t</text>
<text x="108.0" y="-0.2" font-size="12.0" text-anchor="middle">)</text>
<text x="126.2" y="-0.2" font-size="12.0" text-anchor="middle" font-style="italic">n</text>
<text x="138.5" y="-0.2" font-size="12.0" text-anchor="middle">(</text>
<text x="142.0" y="-0.2" font-size="12.0" text-anchor="middle" font-style="italic">t</text>
<text x="146.8" y="-0.2" font-size="12.0" text-anchor="middle">/</text>
<text x="151.5" y="-0.2" font-size="12.0" text-anchor="middle" font-style="italic">t</text>
<text x="160.0" y="-0.2" font-size="12.0" text-anchor="middle">)</text>
<text x="172.0" y="-0.2" font-size="12.0" text-anchor="middle" font-style="italic">k</text>
<text x="176.8" y="-0.2" font-size="12.0" text-anchor="middle">,</text>
<text x="182.0" y="-0.2" font-size="12.0" text-anchor="middle" font-style="italic">t</text>
<text x="103.8" y="1.8" font-size="8.4" text-anchor="middle">0</text>
<text x="155.9" y="1.8" font-size="8.4" text-anchor="middle">0</text>
<text x="185.8" y="1.8" font-size="8.4" text-anchor="middle">0</text>
<text x="113.0" y="-4.8" font-size="8.4" text-anchor="middle">−</text>
<text x="118.2" y="-4.8" font-size="8.4" text-anchor="middle" font-style="italic">α</text>
<text x="164.4" y="-4.8" font-size="8.4" text-anchor="middle" font-style="italic">β</text>
<text transform="translate(134.0 0.9) scale(0.8 1)" font-size="18.5" text-anchor="middle">(</text>
<text transform="translate(190.4 0.9) scale(0.8 1)" font-size="18.5" text-anchor="middle">)</text>
</g>
<text x="93.0" y="206.2" font-size="9.8" text-anchor="start">radial momentum</text>
<text x="166.8" y="206.2" font-size="10" text-anchor="middle" font-style="italic">k</text>
<text transform="translate(172.0 209.1) scale(0.58 1)" font-size="16" text-anchor="middle">[</text>
<text x="176.0" y="206.2" font-size="10" text-anchor="middle" font-style="italic">ξ</text>
<text x="180.0" y="202.4" font-size="7" text-anchor="middle">−</text>
<text x="183.6" y="202.4" font-size="7" text-anchor="middle">1</text>
<text x="179.6" y="209.0" font-size="7" text-anchor="middle" font-style="italic">h</text>
<text transform="translate(188.6 209.1) scale(0.58 1)" font-size="16" text-anchor="middle">]</text>
<g transform="translate(210.6 151.4) rotate(-90)">
<text x="2.9" y="0.0" font-size="12" text-anchor="middle" font-style="italic">n</text>
<text x="8.0" y="0.0" font-size="12" text-anchor="middle">(</text>
<text x="14.0" y="0.0" font-size="12" text-anchor="middle" font-style="italic">k</text>
<text x="18.6" y="0.0" font-size="12" text-anchor="middle">,</text>
<text x="22.3" y="0.0" font-size="12" text-anchor="middle" font-style="italic">t</text>
<text x="26.0" y="0.0" font-size="12" text-anchor="middle">)</text>
</g>
<rect x="258.3" y="17.8" width="69.2" height="85.4" fill="#fff" stroke="#000" stroke-width="0.9"/>
<text x="289.4" y="28.2" font-size="9.3" text-anchor="start">log</text>
<text x="304.0" y="28.2" font-size="10" text-anchor="middle">(</text>
<text x="307.6" y="28.2" font-size="10" text-anchor="middle" font-style="italic">t</text>
<text x="312.2" y="28.2" font-size="10" text-anchor="middle">/</text>
<text x="316.2" y="28.2" font-size="10" text-anchor="middle" font-style="italic">t</text>
<text x="322.4" y="28.2" font-size="10" text-anchor="middle">)</text>
<text x="319.4" y="29.8" font-size="7" text-anchor="middle">0</text>
<polygon points="271.5,36.8 269.3,40.9 273.7,40.9" fill="#7a7aff" stroke="#0000ff" stroke-width="0.9"/>
<rect x="289.9" y="38.7" width="4.7" height="3.0" fill="#bdbdbd"/>
<text x="297.7" y="42.7" font-size="10">0.00</text>
<rect x="269.6" y="50.9" width="3.7" height="3.7" fill="#66b266" stroke="#008000" stroke-width="0.9"/>
<text x="289.4" y="56.4" font-size="10">=</text>
<text x="297.7" y="56.5" font-size="10">0.27</text>
<polygon points="271.5,64.4 273.4,65.8 272.7,68.0 270.3,68.0 269.6,65.8" fill="#ff7a7a" stroke="#ff0000" stroke-width="0.9"/>
<text x="289.4" y="70.0" font-size="10">=</text>
<text x="297.7" y="70.1" font-size="10">0.54</text>
<polygon points="271.5,78.3 273.2,79.3 273.2,81.3 271.5,82.3 269.8,81.3 269.8,79.3" fill="#ffd070" stroke="#ffa500" stroke-width="0.9"/>
<rect x="289.9" y="80.0" width="4.7" height="3.0" fill="#bdbdbd"/>
<text x="297.7" y="84.0" font-size="10">0.81</text>
<circle cx="271.5" cy="94.0" r="1.8" fill="#dca4a4" stroke="#a52a2a" stroke-width="0.9"/>
<rect x="289.9" y="93.7" width="4.7" height="3.0" fill="#bdbdbd"/>
<text x="297.7" y="97.7" font-size="10">1.08</text>
<rect x="222.0" y="184.0" width="105.5" height="31.6" fill="#fff" stroke="#000" stroke-width="0.9"/>
<path d="M225.4,198.7 H248.6" stroke="#000" stroke-width="1.9"/>
<text x="260.2" y="203.2" font-size="10.6" text-anchor="middle" font-style="italic">f</text>
<text x="268.0" y="203.2" font-size="10.6" text-anchor="middle">(</text>
<text x="272.8" y="203.2" font-size="10.6" text-anchor="middle" font-style="italic">κ</text>
<text x="277.5" y="203.2" font-size="10.6" text-anchor="middle">)</text>
<text x="284.8" y="203.2" font-size="10.6" text-anchor="middle">=</text>
<text x="264.2" y="204.8" font-size="7.4" text-anchor="middle" font-style="italic">s</text>
<text x="307.2" y="196.0" font-size="10.6" text-anchor="middle" font-style="italic">A</text>
<path d="M293.2,199.5 H320.6" stroke="#444" stroke-width="1.0"/>
<text x="297.0" y="210.2" font-size="10.6" text-anchor="middle">1</text>
<text x="304.3" y="210.2" font-size="10.6" text-anchor="middle">+</text>
<text x="312.8" y="210.2" font-size="10.6" text-anchor="middle" font-style="italic">κ</text>
<text x="317.6" y="206.4" font-size="7.8" text-anchor="middle" font-style="italic">ζ</text>
</svg>
</body></html>
